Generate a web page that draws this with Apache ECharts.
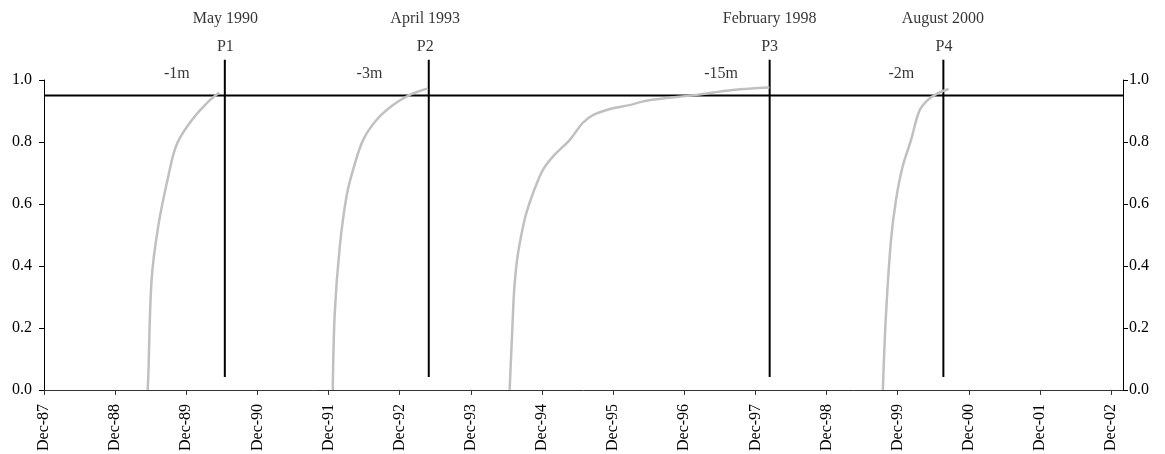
<!DOCTYPE html>
<html><head><meta charset="utf-8">
<script src="https://cdn.jsdelivr.net/npm/echarts@6/dist/echarts.min.js"></script>
<style>html,body{margin:0;padding:0;background:#fff}#c{width:1165px;height:454px}</style>
</head><body><div id="c"></div>
<script>
// x values are months elapsed since December 1987
const tickLabels = ['Dec-87','Dec-88','Dec-89','Dec-90','Dec-91','Dec-92','Dec-93','Dec-94','Dec-95','Dec-96','Dec-97','Dec-98','Dec-99','Dec-00','Dec-01','Dec-02'];
const yTicks = [0, 0.2, 0.4, 0.6, 0.8, 1.0];

const curve1Months = [17.48, 17.58, 18.15, 19.26, 20.95, 22.45, 25.16, 27.98, 29.55];
const curve1Values = [0.0, 0.038, 0.355, 0.527, 0.688, 0.795, 0.876, 0.935, 0.959];

const curve2Months = [48.71, 49.04, 49.89, 51.02, 52.13, 53.82, 56.08, 58.87, 61.69, 64.77];
const curve2Values = [0.0, 0.247, 0.462, 0.624, 0.710, 0.806, 0.871, 0.919, 0.952, 0.973];

const curve3Months = [78.54, 79.0, 79.3, 79.8, 80.51, 81.35, 82.47, 84.15, 85.84, 88.65, 90.9, 92.6, 95.95, 98.77, 101.58, 110.01, 116.18, 122.36];
const curve3Values = [0.0, 0.20, 0.32, 0.42, 0.50, 0.570, 0.634, 0.710, 0.753, 0.806, 0.862, 0.887, 0.909, 0.919, 0.933, 0.952, 0.968, 0.976];

const curve4Months = [141.49, 142.03, 142.87, 143.71, 144.82, 146.24, 147.64, 149.04, 150.72, 152.58];
const curve4Values = [0.0, 0.247, 0.484, 0.613, 0.720, 0.806, 0.900, 0.935, 0.957, 0.971];

const eventMonths = [30.5, 64.9, 122.4, 151.7];
const eventDateLabels = ['May 1990', 'April 1993', 'February 1998', 'August 2000'];
const eventDateMonths = [30.6, 64.3, 122.4, 151.6];
const eventNames = ['P1', 'P2', 'P3', 'P4'];
const eventNameMonths = [30.6, 64.3, 122.4, 151.8];
const lagLabels = ['-1m', '-3m', '-15m', '-2m'];
const lagMonths = [22.4, 54.9, 114.2, 144.6];

const thresholdValue = 0.95;
const xMin = 0, xMax = 182;

const FONT = 'Liberation Serif';
const zip = (a, b) => a.map((v, i) => [v, b[i]]);

const curveSeries = [
  [curve1Months, curve1Values],
  [curve2Months, curve2Values],
  [curve3Months, curve3Values],
  [curve4Months, curve4Values]
].map(([m, v]) => ({
  type: 'line', data: zip(m, v), showSymbol: false, smooth: 0.35,
  lineStyle: { color: '#c0c0c0', width: 2.5 }, z: 5, silent: true, clip: false
}));

const vLineSeries = eventMonths.map(m => ({
  type: 'line', data: [[m, 0.042], [m, 1.065]], showSymbol: false, clip: false,
  lineStyle: { color: '#000', width: 2 }, z: 3, silent: true
}));

function labelSeries(months, texts, yVal) {
  return {
    type: 'scatter', symbolSize: 0, clip: false, silent: true, z: 6,
    data: months.map((m, i) => ({ value: [m, yVal], name: texts[i] })),
    label: { show: true, position: 'inside', formatter: p => p.name, color: '#000', fontFamily: FONT, fontSize: 16 }
  };
}

const yAxisCommon = {
  type: 'value', min: 0, max: 1, interval: 0.2,
  axisLine: { show: true, lineStyle: { color: '#000', width: 1 } },
  axisTick: { show: true, length: 5, lineStyle: { color: '#000' } },
  splitLine: { show: false },
  axisLabel: { color: '#000', fontFamily: FONT, fontSize: 16, formatter: v => v.toFixed(1) }
};

const option = {
  animation: false,
  grid: { left: 44, right: 42, top: 80, bottom: 64, containLabel: false },
  xAxis: {
    type: 'value', min: xMin, max: xMax, interval: 12,
    axisLine: { show: true, onZero: false, lineStyle: { color: '#333', width: 1 } },
    axisTick: { show: true, length: 5, lineStyle: { color: '#333' } },
    splitLine: { show: false },
    axisLabel: {
      rotate: 90, margin: 14, color: '#000', fontFamily: FONT, fontSize: 16,
      showMaxLabel: false,
      formatter: v => (v % 12 === 0 && tickLabels[v / 12] !== undefined) ? tickLabels[v / 12] : ''
    }
  },
  yAxis: [
    Object.assign({}, yAxisCommon, { position: 'left', axisLabel: Object.assign({}, yAxisCommon.axisLabel, { margin: 12 }) }),
    Object.assign({}, yAxisCommon, { position: 'right', axisLabel: Object.assign({}, yAxisCommon.axisLabel, { margin: 6 }) })
  ],
  series: [
    {
      type: 'line', data: [[xMin, thresholdValue], [xMax, thresholdValue]], showSymbol: false,
      lineStyle: { color: '#000', width: 2 }, z: 2, silent: true
    },
    ...vLineSeries,
    ...curveSeries,
    labelSeries(eventDateMonths, eventDateLabels, 1.196),
    labelSeries(eventNameMonths, eventNames, 1.107),
    labelSeries(lagMonths, lagLabels, 1.019)
  ]
};

const chart = echarts.init(document.getElementById('c'), null, { renderer: 'canvas' });
chart.setOption(option);
</script>
</body></html>
